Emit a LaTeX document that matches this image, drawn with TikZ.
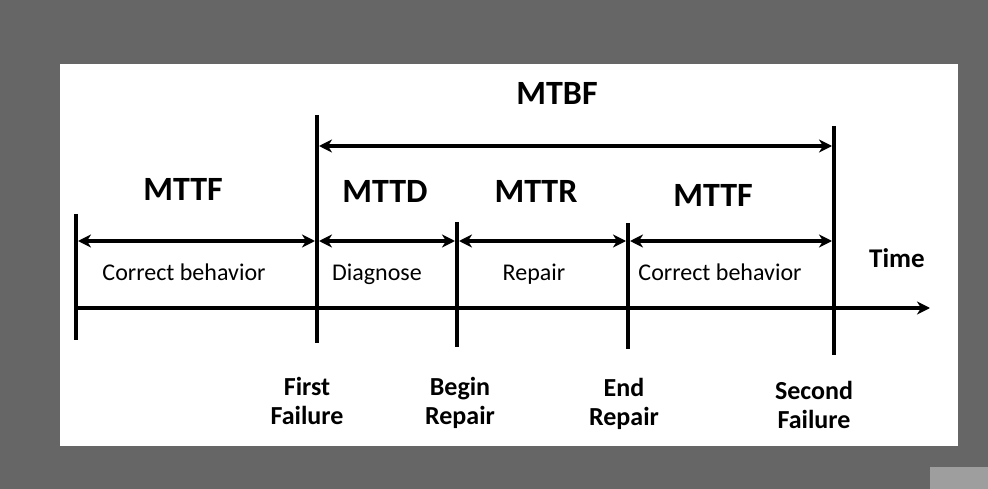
\documentclass[tikz,border=0pt]{standalone}
\usepackage{fontspec}
\setmainfont{Carlito}
\usepackage{tikz}
\usetikzlibrary{arrows.meta}
\definecolor{screengray}{RGB}{102,102,102}
\definecolor{cornergray}{RGB}{158,158,158}
\tikzset{
    >={Stealth[length=13pt,width=13pt,inset=4pt]},
    mark line/.style={line width=4pt},
    span/.style={line width=3.5pt,<->,shorten <=2pt,shorten >=2pt},
    head/.style={font=\fontsize{34}{38}\selectfont\bfseries,inner sep=0pt,anchor=base},
    phase/.style={font=\fontsize{24}{28}\selectfont,inner sep=0pt,anchor=base},
    event/.style={font=\fontsize{26}{29}\selectfont\bfseries,align=center,inner sep=0pt,anchor=base}
}

\begin{document}
\begin{tikzpicture}[x=1pt,y=-1pt]
        \useasboundingbox (0,0) rectangle (988,489);
        % Screen and slide
        \fill[screengray] (0,0) rectangle (988,489);
        \fill[white] (60,64) rectangle (958,446);
        \fill[cornergray] (930,467) rectangle (988,489);

        % Event marks
        \coordinate (s0) at (76,214);   \coordinate (e0) at (76,340);
        \coordinate (s1) at (317,115);  \coordinate (e1) at (317,343);
        \coordinate (s2) at (457,222);  \coordinate (e2) at (457,347);
        \coordinate (s3) at (628,223);  \coordinate (e3) at (628,349);
        \coordinate (s4) at (834,126);  \coordinate (e4) at (834,355);
        \foreach \i in {0,...,4}
            \draw[mark line] (s\i) -- (e\i);

        % Time axis
        \coordinate (a0) at (76,308);
        \coordinate (a1) at (930,308);
        \draw[line width=3.5pt,->] (a0) -- (a1);
        \node[font=\fontsize{27}{30}\selectfont\bfseries,inner sep=0pt,anchor=base] (time) at (897,268) {Time};

        % Phase spans
        \coordinate (p0) at (76,241);
        \coordinate (p1) at (317,241);
        \coordinate (p2) at (457,241);
        \coordinate (p3) at (628,241);
        \coordinate (p4) at (834,241);
        \draw[span] (p0) -- (p1);
        \draw[span] (p1) -- (p2);
        \draw[span] (p2) -- (p3);
        \draw[span] (p3) -- (p4);

        % MTBF span
        \coordinate (b1) at (317,146);
        \coordinate (b4) at (834,146);
        \draw[span] (b1) -- (b4);
        \node[head] (mtbf) at (557,105) {MTBF};

        % Span names
        \node[head] (mttfa) at (183,201) {MTTF};
        \node[head] (mttd) at (385,203) {MTTD};
        \node[head] (mttr) at (536,203) {MTTR};
        \node[head] (mttfb) at (713,207) {MTTF};

        % Phase names
        \node[phase] (behava) at (184,280) {Correct behavior};
        \node[phase] (diag) at (377,280) {Diagnose};
        \node[phase] (rep) at (534,280) {Repair};
        \node[phase] (behavb) at (720,280) {Correct behavior};

        % Events
        \node[event] (ffail) at (307,424) {First\\Failure};
        \node[event] (brep) at (460,424) {Begin\\Repair};
        \node[event] (erep) at (624,425) {End\\Repair};
        \node[event] (sfail) at (814,428) {Second\\Failure};
\end{tikzpicture}
\end{document}
